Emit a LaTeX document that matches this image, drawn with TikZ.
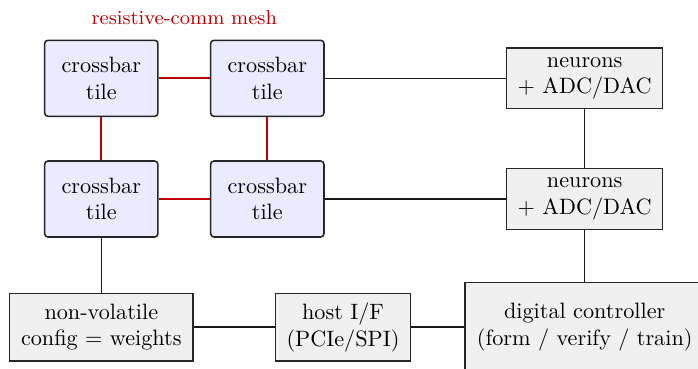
\documentclass[tikz,border=0pt]{standalone}
\begin{document}
\begin{tikzpicture}[x=0.45pt,y=-0.45pt,
  tilebox/.style={draw=black!85,line width=0.7pt,fill=blue!8,rounded corners=1.5pt,align=center,minimum width=51pt,minimum height=34.2pt,inner sep=0pt},
  graybox/.style={draw=black!85,line width=0.7pt,fill=black!6,align=center,inner sep=0pt},
  mesh/.style={draw=red!75!black,line width=0.8pt},
  wire/.style={draw=black!90,line width=0.65pt}]
\useasboundingbox (0,0) rectangle (698,368);
\node[tilebox] (t1) at (101.3,78.3) {crossbar\\tile};
\node[tilebox] (t2) at (267.3,78.3) {crossbar\\tile};
\node[tilebox] (t3) at (101.3,199) {crossbar\\tile};
\node[tilebox] (t4) at (267.3,199) {crossbar\\tile};
\node[text=red!75!black,font=\small] (lbl) at (184.3,18) {resistive-comm mesh};
\node[graybox,minimum width=70.2pt,minimum height=27.3pt] (n1) at (584.7,78.3) {neurons\\+ ADC/DAC};
\node[graybox,minimum width=70.2pt,minimum height=27.3pt] (n2) at (584.7,199) {neurons\\+ ADC/DAC};
\node[graybox,minimum width=82.5pt,minimum height=30.5pt] (nv) at (101.3,327.2) {non-volatile\\config = weights};
\node[graybox,minimum width=60.6pt,minimum height=30.5pt] (host) at (343,327.2) {host I/F\\(PCIe/SPI)};
\node[graybox,minimum width=107.5pt,minimum height=40.4pt] (ctrl) at (584.7,327.2) {digital controller\\(form / verify / train)};
\draw[mesh] (t1) -- (t2);
\draw[mesh] (t3) -- (t4);
\draw[mesh] (t1) -- (t3);
\draw[mesh] (t2) -- (t4);
\draw[wire] (t2) -- (n1);
\draw[wire] (t4) -- (n2);
\draw[wire] (n1) -- (n2);
\draw[wire] (n2) -- (ctrl);
\draw[wire] (t3) -- (nv);
\draw[wire] (nv) -- (host);
\draw[wire] (host) -- (ctrl);
\end{tikzpicture}
\end{document}
